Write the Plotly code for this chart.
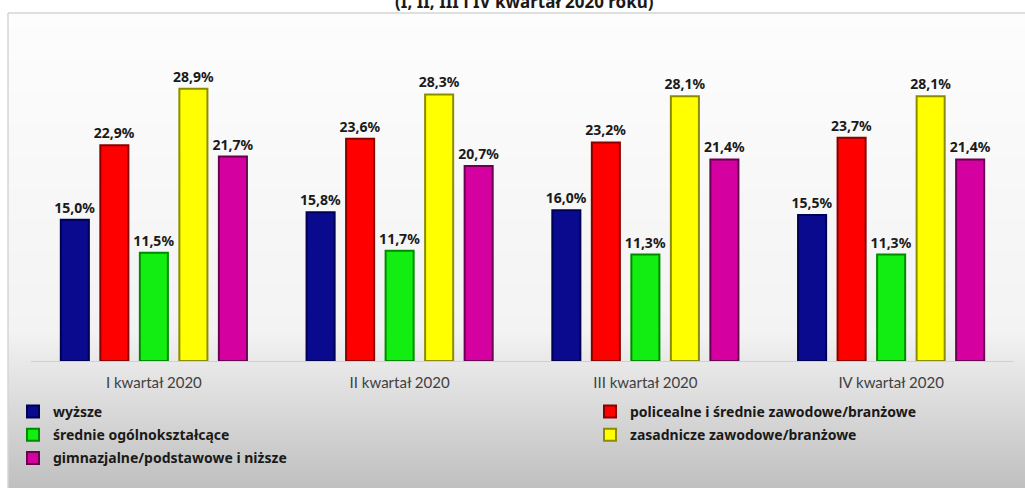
import base64
import struct
import zlib
import plotly.graph_objects as go

categories = ["I kwartał 2020", "II kwartał 2020", "III kwartał 2020", "IV kwartał 2020"]
series_names = [
    "wyższe",
    "policealne i średnie zawodowe/branżowe",
    "średnie ogólnokształcące",
    "zasadnicze zawodowe/branżowe",
    "gimnazjalne/podstawowe i niższe",
]
wyzsze = [15.0, 15.8, 16.0, 15.5]
policealne = [22.9, 23.6, 23.2, 23.7]
srednie = [11.5, 11.7, 11.3, 11.3]
zasadnicze = [28.9, 28.3, 28.1, 28.1]
gimnazjalne = [21.7, 20.7, 21.4, 21.4]
values = [wyzsze, policealne, srednie, zasadnicze, gimnazjalne]
legend_ids = ["legend", "legend2", "legend", "legend2", "legend"]

fill_colors = ["#0A0A8E", "#FF0000", "#12EE12", "#FFFF00", "#D400A0"]
line_colors = ["#000055", "#8A0000", "#008A00", "#8C8C00", "#6A0050"]

W, H = 1025, 488
L, R, T, B = 31, 11, 69, 127
plot_w = W - L - R
plot_h = H - T - B


def px_x(px):
    return (px - L) / plot_w


def px_y(py):
    return (H - B - py) / plot_h


# vertical gradient image for the chart frame background
TOP = 13
grad_h = H - TOP
rows = []
for i in range(grad_h):
    y = TOP + i
    if y < 330:
        c = 253 - (y - TOP) / (330 - TOP) * 10
    else:
        c = 243 - (y - 330) / (H - 330) * 52
    c = int(round(c))
    rows.append(b"\x00" + bytes([c, c, c]))
raw = b"".join(rows)


def chunk(tag, data):
    return struct.pack(">I", len(data)) + tag + data + struct.pack(">I", zlib.crc32(tag + data) & 0xFFFFFFFF)


png = b"\x89PNG\r\n\x1a\n" + chunk(b"IHDR", struct.pack(">IIBBBBB", 1, grad_h, 8, 2, 0, 0, 0)) \
    + chunk(b"IDAT", zlib.compress(raw)) + chunk(b"IEND", b"")
grad_uri = "data:image/png;base64," + base64.b64encode(png).decode()

fig = go.Figure()
for name, vals, fc, lc, lg in zip(series_names, values, fill_colors, line_colors, legend_ids):
    fig.add_trace(go.Bar(
        x=categories, y=vals, name=name, legend=lg, legendgroup=name,
        marker=dict(color=fc, line=dict(color=lc, width=2)),
        texttemplate="%{y:.1f}%", textposition="outside",
        constraintext="none",
        textfont=dict(family="Noto Sans", size=14, color="#1a1a1a", weight="bold"),
        cliponaxis=False,
    ))

shapes = [
    dict(type="line", xref="paper", yref="paper", layer="below",
         x0=px_x(8), x1=px_x(W + 5), y0=px_y(TOP), y1=px_y(TOP),
         line=dict(color="#D4D4D4", width=1.5)),
    dict(type="line", xref="paper", yref="paper", layer="below",
         x0=px_x(8), x1=px_x(8), y0=px_y(TOP), y1=px_y(H + 5),
         line=dict(color="#D4D4D4", width=1.5)),
]

legend_common = dict(
    orientation="v", xanchor="left", yanchor="top", y=px_y(396),
    font=dict(family="Noto Sans", size=14, color="#1a1a1a", weight="bold"),
    bgcolor="rgba(0,0,0,0)", tracegroupgap=2,
)

fig.update_layout(
    width=W, height=H,
    margin=dict(l=L, r=R, t=T, b=B, autoexpand=False),
    paper_bgcolor="white", plot_bgcolor="rgba(0,0,0,0)",
    separators=", ",
    barmode="group", bargap=0.196, bargroupgap=0.29,
    font=dict(family="Noto Sans", size=14, color="#333333"),
    shapes=shapes,
    images=[dict(source=grad_uri, xref="paper", yref="paper",
                 x=px_x(8), y=px_y(TOP), sizex=px_x(W) - px_x(8), sizey=px_y(TOP) - px_y(H),
                 xanchor="left", yanchor="top", sizing="stretch", layer="below")],
    showlegend=True,
    legend=dict(x=px_x(13), **legend_common),
    legend2=dict(x=px_x(590), **legend_common),
    annotations=[dict(
        text="<b>(I, II, III i IV kwartał 2020 roku)</b>", xref="paper", yref="paper",
        x=px_x(524), y=px_y(15), xanchor="center", yanchor="bottom", showarrow=False,
        font=dict(family="Noto Sans", size=17, color="#1a1a1a"),
    )],
)
fig.update_xaxes(showline=True, linecolor="#D0D0D0", linewidth=1, ticks="",
                 ticklabelstandoff=8,
                 tickfont=dict(family="Lato", size=15, color="#404040"),
                 showgrid=False)
fig.update_yaxes(range=[0, 31], visible=False, showgrid=False, zeroline=False)

fig.write_html("out.html", config={"displayModeBar": False},
               post_script="document.body.style.margin='0';document.body.style.overflow='hidden';")
